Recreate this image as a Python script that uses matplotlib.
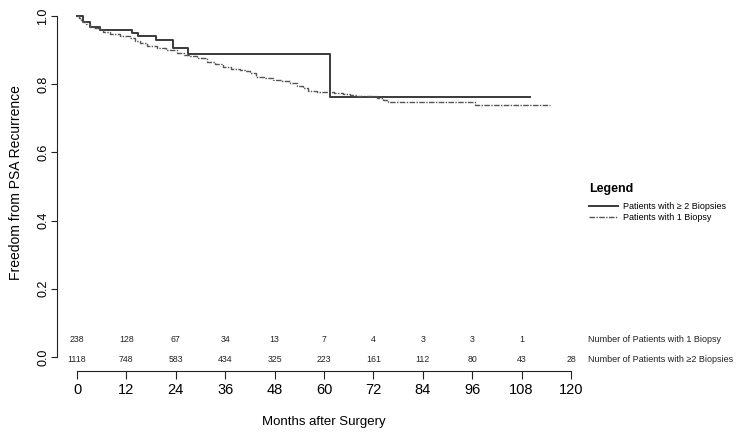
import matplotlib.pyplot as plt

plt.rcParams['font.family'] = ['Liberation Sans', 'DejaVu Sans']

# Kaplan-Meier curves (months, survival)
t_multi = [0, 1.5, 3.2, 5.6, 13.3, 14.9, 19.2, 23.2, 27.0, 61.5, 110]
s_multi = [1.0, 0.981, 0.969, 0.959, 0.951, 0.942, 0.930, 0.905, 0.889, 0.763, 0.763]

t_single = [0, 0.5, 1.0, 1.5, 2.2, 3.2, 4.2, 5.6, 6.4, 8.0, 10.4, 12.9, 14.0, 15.3,
            17.0, 19.4, 21.5, 24.2, 26.0, 27.4, 29.1, 31.5, 33.5, 35.5, 37.5, 39.6,
            40.8, 42.0, 43.6, 45.5, 47.7, 49.5, 51.7, 53.5, 55.0, 56.2, 58.2, 62.5,
            64.5, 66.3, 68.0, 71.2, 72.8, 74.4, 75.6, 96.7, 115]
s_single = [1.0, 0.995, 0.988, 0.981, 0.976, 0.969, 0.965, 0.961, 0.954, 0.948, 0.941,
            0.935, 0.928, 0.920, 0.913, 0.905, 0.899, 0.892, 0.887, 0.883, 0.876, 0.866,
            0.859, 0.851, 0.846, 0.842, 0.838, 0.832, 0.822, 0.817, 0.812, 0.808, 0.803,
            0.795, 0.788, 0.780, 0.778, 0.773, 0.771, 0.768, 0.766, 0.765, 0.759, 0.754,
            0.747, 0.739, 0.739]

# numbers at risk
risk_times = [0, 12, 24, 36, 48, 60, 72, 84, 96, 108, 120]
risk_single = [238, 128, 67, 34, 13, 7, 4, 3, 3, 1]
risk_multi = [1118, 748, 583, 434, 325, 223, 161, 112, 80, 43, 28]

fig = plt.figure(figsize=(7.44, 4.34), dpi=100)
W, H = 744, 434
ax = fig.add_axes([57 / W, (H - 371) / H, (571 - 57) / W, (371 - 10) / H])

ax.step(t_multi, s_multi, where='post', color='#3a3a3a', lw=1.4,
        label='Patients with \u2265 2 Biopsies')
ax.step(t_single, s_single, where='post', color='#555555', lw=1.0,
        linestyle=(0, (4, 1, 1, 1)), label='Patients with 1 Biopsy')

ax.set_xlim(-4.86, 120)
ax.set_ylim(-14 / 341, 1 + 6 / 341)

for s in ['top', 'right']:
    ax.spines[s].set_visible(False)
ax.spines['bottom'].set_bounds(0, 120)
ax.spines['left'].set_bounds(0, 1)
ax.spines['bottom'].set_color('#222222')
ax.spines['left'].set_color('#222222')

ax.set_xticks(risk_times)
ax.set_yticks([0, 0.2, 0.4, 0.6, 0.8, 1.0])
ax.set_yticklabels(['0.0', '0.2', '0.4', '0.6', '0.8', '1.0'], rotation=90, va='center')
ax.tick_params(axis='x', length=6, labelsize=10.5, pad=3, color='#222222')
ax.tick_params(axis='y', length=4, labelsize=9, pad=1.5, color='#222222')

ax.set_xlabel('Months after Surgery', fontsize=9.5)
ax.set_ylabel('Freedom from PSA Recurrence', fontsize=10)
ax.xaxis.set_label_coords((324 - 57) / 514, (371 - 416) / 361)
ax.yaxis.set_label_coords((23 - 57) / 514, (371 - 183) / 361)

# risk table
for t, n in zip(risk_times, risk_single):
    ax.text(t, 0.050, str(n), ha='center', va='center', fontsize=6.3, color='#222222')
for t, n in zip(risk_times, risk_multi):
    ax.text(t, -0.006, str(n), ha='center', va='center', fontsize=6.3, color='#222222')
ax.text(124.2, 0.050, 'Number of Patients with 1 Biopsy', ha='left', va='center',
        fontsize=6.5, color='#222222', clip_on=False)
ax.text(124.2, -0.006, 'Number of Patients with \u22652 Biopsies', ha='left', va='center',
        fontsize=6.5, color='#222222', clip_on=False)

leg = ax.legend(loc='upper left', bbox_to_anchor=(581 / W, (H - 175) / H),
                bbox_transform=fig.transFigure, frameon=False, fontsize=6.5,
                title='Legend', alignment='left', handlelength=3.2,
                handletextpad=0.5, labelspacing=0.2,
                title_fontproperties={'weight': 'bold', 'size': 9})
leg._legend_box.sep = 5

fig.savefig('out.png', dpi=100)
